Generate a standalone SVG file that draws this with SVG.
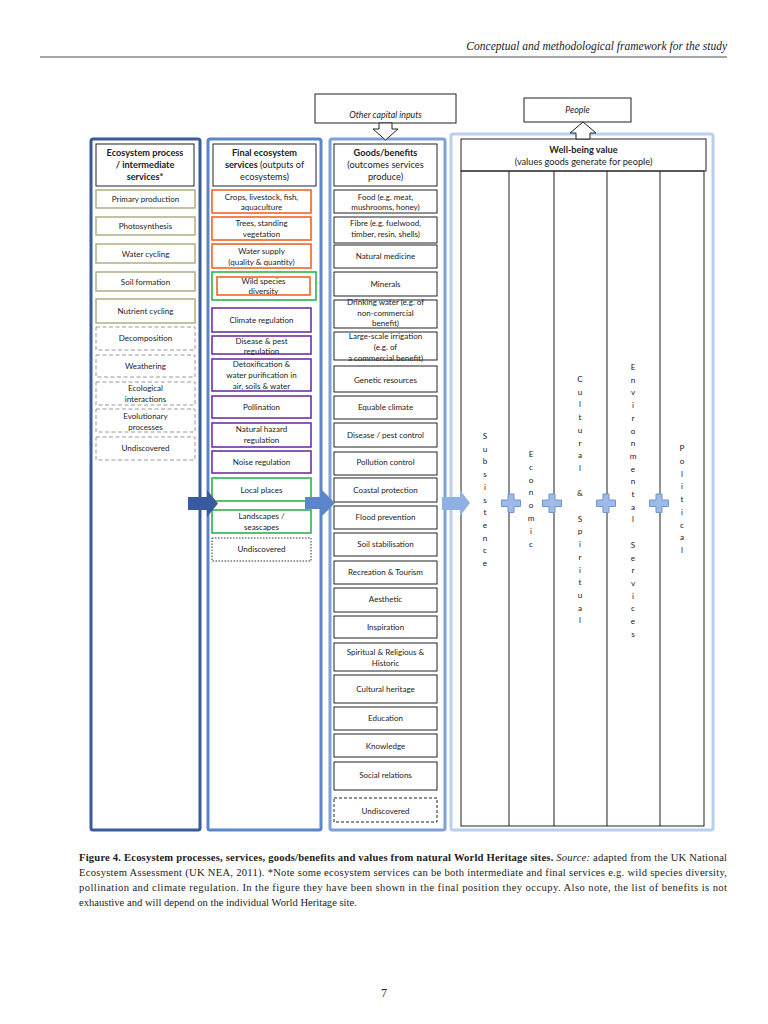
<svg xmlns="http://www.w3.org/2000/svg" width="768" height="1024" viewBox="0 0 768 1024">
<style>
text{font-family:Lato,"Open Sans","Liberation Sans",sans-serif;fill:#222}
.it{font-size:8px;text-anchor:middle}
.hd{font-size:9.2px;text-anchor:middle}
.b{font-weight:bold}
.box{fill:#fff;stroke:#222;stroke-width:1}
.ol{fill:#fff;stroke:#b4b48a;stroke-width:1.6}
.gd{fill:#fff;stroke:#999;stroke-width:1;stroke-dasharray:4 2.5}
.or{fill:#fff;stroke:#f26522;stroke-width:1.6}
.pu{fill:#fff;stroke:#7030a0;stroke-width:1.6}
.gr{fill:#fff;stroke:#2db34a;stroke-width:1.6}
.dt{fill:#fff;stroke:#333;stroke-width:1;stroke-dasharray:1.5 1.5}
.dk{fill:#fff;stroke:#222;stroke-width:1;stroke-dasharray:3 2}
.vt{font-size:8.2px;text-anchor:middle}
.plus{fill:#9dbbe6;stroke:#6f94d0;stroke-width:1}
.serif{font-family:"Liberation Serif","Times New Roman",serif;fill:#222}
</style>
<g id="page-header">
<line x1="40" y1="57" x2="727" y2="57" stroke="#222" stroke-width="0.8"/>
<text class="serif" x="727" y="50" font-size="11.5" font-style="italic" text-anchor="end">Conceptual and methodological framework for the study</text>
</g>
<g id="columns">
<rect id="col4" x="451" y="134" width="262" height="696" fill="#fff" stroke="#b8cff0" stroke-width="3" rx="2"/>
<rect id="col3" x="330" y="139" width="115" height="691" fill="#fff" stroke="#7ea1da" stroke-width="3" rx="2"/>
<rect id="col2" x="208" y="139" width="113" height="691" fill="#fff" stroke="#5b86cc" stroke-width="3" rx="2"/>
<rect id="col1" x="91" y="139" width="109" height="691" fill="#fff" stroke="#3a5a9e" stroke-width="3" rx="2"/>
</g>
<g id="other-capital-inputs">
<rect class="box" x="315" y="94" width="141" height="29"/>
<text x="385.5" y="118" font-size="8.8" font-style="italic" text-anchor="middle">Other capital inputs</text>
<polygon points="379,123 392,123 392,129 398,129 385.5,140 373,129 379,129" fill="#fff" stroke="#222" stroke-width="1"/>
</g>
<g id="people">
<rect class="box" x="524" y="98" width="107" height="24"/>
<text x="577.5" y="113" font-size="8.8" font-style="italic" text-anchor="middle">People</text>
</g>
<g id="col1-items">
<rect class="box" x="96" y="144" width="98" height="42"/>
<text class="hd b" x="145" y="156">Ecosystem process</text>
<text class="hd b" x="145" y="168">/ intermediate</text>
<text class="hd b" x="145" y="180">services*</text>
<rect class="ol" x="96" y="190" width="99" height="18"/><text class="it" x="145.5" y="202">Primary production</text>
<rect class="ol" x="96" y="217" width="99" height="18"/><text class="it" x="145.5" y="229">Photosynthesis</text>
<rect class="ol" x="96" y="244" width="99" height="19"/><text class="it" x="145.5" y="256.5">Water cycling</text>
<rect class="ol" x="96" y="272" width="99" height="19"/><text class="it" x="145.5" y="284.5">Soil formation</text>
<rect class="ol" x="96" y="299" width="99" height="24"/><text class="it" x="145.5" y="314">Nutrient cycling</text>
<rect class="gd" x="96" y="327" width="99" height="23"/><text class="it" x="145.5" y="341">Decomposition</text>
<rect class="gd" x="96" y="355" width="99" height="22"/><text class="it" x="145.5" y="369">Weathering</text>
<rect class="gd" x="96" y="382" width="99" height="23"/><text class="it" x="145.5" y="391">Ecological</text><text class="it" x="145.5" y="402">interactions</text>
<rect class="gd" x="96" y="409" width="99" height="23"/><text class="it" x="145.5" y="419">Evolutionary</text><text class="it" x="145.5" y="430">processes</text>
<rect class="gd" x="96" y="437" width="99" height="23"/><text class="it" x="145.5" y="451">Undiscovered</text>
</g>
<g id="col2-items">
<rect class="box" x="213" y="144" width="103" height="42"/>
<text class="hd b" x="264.5" y="156">Final ecosystem</text>
<text class="hd" x="264.5" y="168"><tspan class="b">services</tspan> (outputs of</text>
<text class="hd" x="264.5" y="180">ecosystems)</text>
<rect class="or" x="212" y="190" width="99" height="23"/><text class="it" x="261.5" y="200">Crops, livestock, fish,</text><text class="it" x="261.5" y="210">aquaculture</text>
<rect class="or" x="212" y="217" width="99" height="23"/><text class="it" x="261.5" y="226">Trees, standing</text><text class="it" x="261.5" y="237">vegetation</text>
<rect class="or" x="212" y="244" width="99" height="24"/><text class="it" x="261.5" y="254">Water supply</text><text class="it" x="261.5" y="265">(quality &amp; quantity)</text>
<rect class="gr" x="212" y="272" width="104" height="28"/>
<rect class="or" x="217" y="277" width="93" height="18"/><text class="it" x="263.5" y="284">Wild species</text><text class="it" x="263.5" y="294">diversity</text>
<rect class="pu" x="212" y="308" width="99" height="24"/><text class="it" x="261.5" y="323">Climate regulation</text>
<rect class="pu" x="212" y="336" width="99" height="18"/><text class="it" x="261.5" y="344">Disease &amp; pest</text><text class="it" x="261.5" y="354">regulation</text>
<rect class="pu" x="212" y="359" width="99" height="32"/><text class="it" x="261.5" y="367">Detoxification &amp;</text><text class="it" x="261.5" y="378">water purification in</text><text class="it" x="261.5" y="389">air, soils &amp; water</text>
<rect class="pu" x="212" y="396" width="99" height="22"/><text class="it" x="261.5" y="410">Pollination</text>
<rect class="pu" x="212" y="423" width="99" height="24"/><text class="it" x="261.5" y="432">Natural hazard</text><text class="it" x="261.5" y="443">regulation</text>
<rect class="pu" x="212" y="451" width="99" height="22"/><text class="it" x="261.5" y="465">Noise regulation</text>
<rect class="gr" x="212" y="478" width="99" height="23"/><text class="it" x="261.5" y="493">Local places</text>
<rect class="gr" x="212" y="510" width="99" height="23"/><text class="it" x="261.5" y="519">Landscapes /</text><text class="it" x="261.5" y="530">seascapes</text>
<rect class="dt" x="212" y="538" width="99" height="23"/><text class="it" x="261.5" y="552">Undiscovered</text>
</g>
<g id="col3-items">
<rect class="box" x="334" y="144" width="103" height="42"/>
<text class="hd b" x="385.5" y="156">Goods/benefits</text>
<text class="hd" x="385.5" y="168">(outcomes services</text>
<text class="hd" x="385.5" y="180">produce)</text>
<rect class="box" x="334" y="190" width="103" height="23"/><text class="it" x="385.5" y="199.5">Food (e.g. meat,</text><text class="it" x="385.5" y="209.5">mushrooms, honey)</text>
<rect class="box" x="334" y="217" width="103" height="26"/><text class="it" x="385.5" y="226">Fibre (e.g. fuelwood,</text><text class="it" x="385.5" y="237">timber, resin, shells)</text>
<rect class="box" x="334" y="245" width="103" height="23"/><text class="it" x="385.5" y="259">Natural medicine</text>
<rect class="box" x="334" y="272" width="103" height="24"/><text class="it" x="385.5" y="287">Minerals</text>
<rect class="box" x="334" y="300" width="103" height="28"/><text class="it" x="385.5" y="305">Drinking water (e.g. of</text><text class="it" x="385.5" y="316">non-commercial</text><text class="it" x="385.5" y="326">benefit)</text>
<rect class="box" x="334" y="332" width="103" height="28"/><text class="it" x="385.5" y="339">Large-scale irrigation</text><text class="it" x="385.5" y="350">(e.g. of</text><text class="it" x="385.5" y="361">a commercial benefit)</text>
<rect class="box" x="334" y="366" width="103" height="26"/><text class="it" x="385.5" y="383">Genetic resources</text>
<rect class="box" x="334" y="396" width="103" height="23"/><text class="it" x="385.5" y="410">Equable climate</text>
<rect class="box" x="334" y="423" width="103" height="24"/><text class="it" x="385.5" y="438">Disease / pest control</text>
<rect class="box" x="334" y="452" width="103" height="23"/><text class="it" x="385.5" y="465">Pollution control</text>
<rect class="box" x="334" y="478" width="103" height="24"/><text class="it" x="385.5" y="493">Coastal protection</text>
<rect class="box" x="334" y="506" width="103" height="23"/><text class="it" x="385.5" y="520">Flood prevention</text>
<rect class="box" x="334" y="533" width="103" height="23"/><text class="it" x="385.5" y="547">Soil stabilisation</text>
<rect class="box" x="334" y="561" width="103" height="23"/><text class="it" x="385.5" y="575">Recreation &amp; Tourism</text>
<rect class="box" x="334" y="588" width="103" height="24"/><text class="it" x="385.5" y="602">Aesthetic</text>
<rect class="box" x="334" y="616" width="103" height="22"/><text class="it" x="385.5" y="630">Inspiration</text>
<rect class="box" x="334" y="643" width="103" height="28"/><text class="it" x="385.5" y="655">Spiritual &amp; Religious &amp;</text><text class="it" x="385.5" y="666">Historic</text>
<rect class="box" x="334" y="675" width="103" height="28"/><text class="it" x="385.5" y="692">Cultural heritage</text>
<rect class="box" x="334" y="707" width="103" height="23"/><text class="it" x="385.5" y="721">Education</text>
<rect class="box" x="334" y="734" width="103" height="23"/><text class="it" x="385.5" y="749">Knowledge</text>
<rect class="box" x="334" y="762" width="103" height="28"/><text class="it" x="385.5" y="778">Social relations</text>
<rect class="dk" x="334" y="798" width="103" height="24"/><text class="it" x="385.5" y="814">Undiscovered</text>
</g>
<g id="wellbeing">
<rect class="box" x="461" y="139" width="245" height="32"/>
<text class="hd b" x="583.5" y="153">Well-being value</text>
<text class="hd" x="583.5" y="165">(values goods generate for people)</text>
<rect x="461" y="171" width="243" height="655" fill="none" stroke="#222" stroke-width="1"/>
<line x1="509" y1="171" x2="509" y2="826" stroke="#222" stroke-width="1"/>
<line x1="554" y1="171" x2="554" y2="826" stroke="#222" stroke-width="1"/>
<line x1="607" y1="171" x2="607" y2="826" stroke="#222" stroke-width="1"/>
<line x1="660" y1="171" x2="660" y2="826" stroke="#222" stroke-width="1"/>
<polygon points="576,139 576,133 570,133 583,122 596,133 590,133 590,139" fill="#fff" stroke="#222" stroke-width="1"/>
</g>
<g id="value-labels">
<text class="vt"><tspan x="485" y="439">S</tspan><tspan x="485" y="451.7">u</tspan><tspan x="485" y="464.4">b</tspan><tspan x="485" y="477.1">s</tspan><tspan x="485" y="489.8">i</tspan><tspan x="485" y="502.5">s</tspan><tspan x="485" y="515.2">t</tspan><tspan x="485" y="527.9">e</tspan><tspan x="485" y="540.6">n</tspan><tspan x="485" y="553.3">c</tspan><tspan x="485" y="566">e</tspan></text>
<text class="vt"><tspan x="531" y="457">E</tspan><tspan x="531" y="469.8">c</tspan><tspan x="531" y="482.6">o</tspan><tspan x="531" y="495.4">n</tspan><tspan x="531" y="508.2">o</tspan><tspan x="531" y="521">m</tspan><tspan x="531" y="533.8">i</tspan><tspan x="531" y="546.6">c</tspan></text>
<text class="vt"><tspan x="580" y="382">C</tspan><tspan x="580" y="394.7">u</tspan><tspan x="580" y="407.4">l</tspan><tspan x="580" y="420.1">t</tspan><tspan x="580" y="432.8">u</tspan><tspan x="580" y="445.5">r</tspan><tspan x="580" y="458.2">a</tspan><tspan x="580" y="470.9">l</tspan><tspan x="580" y="496.3">&amp;</tspan><tspan x="580" y="521.7">S</tspan><tspan x="580" y="534.4">p</tspan><tspan x="580" y="547.1">i</tspan><tspan x="580" y="559.8">r</tspan><tspan x="580" y="572.5">i</tspan><tspan x="580" y="585.2">t</tspan><tspan x="580" y="597.9">u</tspan><tspan x="580" y="610.6">a</tspan><tspan x="580" y="623.3">l</tspan></text>
<text class="vt"><tspan x="633" y="370">E</tspan><tspan x="633" y="382.7">n</tspan><tspan x="633" y="395.4">v</tspan><tspan x="633" y="408.1">i</tspan><tspan x="633" y="420.8">r</tspan><tspan x="633" y="433.5">o</tspan><tspan x="633" y="446.2">n</tspan><tspan x="633" y="458.9">m</tspan><tspan x="633" y="471.6">e</tspan><tspan x="633" y="484.3">n</tspan><tspan x="633" y="497">t</tspan><tspan x="633" y="509.7">a</tspan><tspan x="633" y="522.4">l</tspan><tspan x="633" y="547.8">S</tspan><tspan x="633" y="560.5">e</tspan><tspan x="633" y="573.2">r</tspan><tspan x="633" y="585.9">v</tspan><tspan x="633" y="598.6">i</tspan><tspan x="633" y="611.3">c</tspan><tspan x="633" y="624">e</tspan><tspan x="633" y="636.7">s</tspan></text>
<text class="vt"><tspan x="682" y="451">P</tspan><tspan x="682" y="463.75">o</tspan><tspan x="682" y="476.5">l</tspan><tspan x="682" y="489.25">i</tspan><tspan x="682" y="502">t</tspan><tspan x="682" y="514.75">i</tspan><tspan x="682" y="527.5">c</tspan><tspan x="682" y="540.25">a</tspan><tspan x="682" y="553">l</tspan></text>
</g>
<g id="connectors">
<polygon points="188,497 207,497 207,490 218,503.5 207,517 207,510 188,510" fill="#3a5a9e"/>
<polygon points="305,497 320,497 320,488 335,503 320,518 320,509 305,509" fill="#5b86cc"/>
<polygon points="442,497 460,497 460,490 470,503 460,516 460,510 442,510" fill="#8fb0e0"/>
<path class="plus" d="M508,494h6v6h6.5v6.5h-6.5v6h-6v-6h-6.5v-6.5h6.5z"/>
<path class="plus" d="M549,494h6v6h6.5v6.5h-6.5v6h-6v-6h-6.5v-6.5h6.5z"/>
<path class="plus" d="M603,494h6v6h6.5v6.5h-6.5v6h-6v-6h-6.5v-6.5h6.5z"/>
<path class="plus" d="M656,494h6v6h6.5v6.5h-6.5v6h-6v-6h-6.5v-6.5h6.5z"/>
</g>
<g id="caption" class="serif" font-size="10.6">
<text class="serif" x="79" y="861" textLength="648" lengthAdjust="spacing"><tspan font-weight="bold">Figure 4. Ecosystem processes, services, goods/benefits and values from natural World Heritage sites.</tspan> <tspan font-style="italic">Source:</tspan> adapted from the UK National</text>
<text class="serif" x="79" y="876" textLength="648" lengthAdjust="spacing">Ecosystem Assessment (UK NEA, 2011). *Note some ecosystem services can be both intermediate and final services e.g. wild species diversity,</text>
<text class="serif" x="79" y="891" textLength="648" lengthAdjust="spacing">pollination and climate regulation. In the figure they have been shown in the final position they occupy. Also note, the list of benefits is not</text>
<text class="serif" x="79" y="906">exhaustive and will depend on the individual World Heritage site.</text>
</g>
<g id="page-number">
<text class="serif" x="384" y="997" font-size="12" text-anchor="middle">7</text>
</g>
</svg>
